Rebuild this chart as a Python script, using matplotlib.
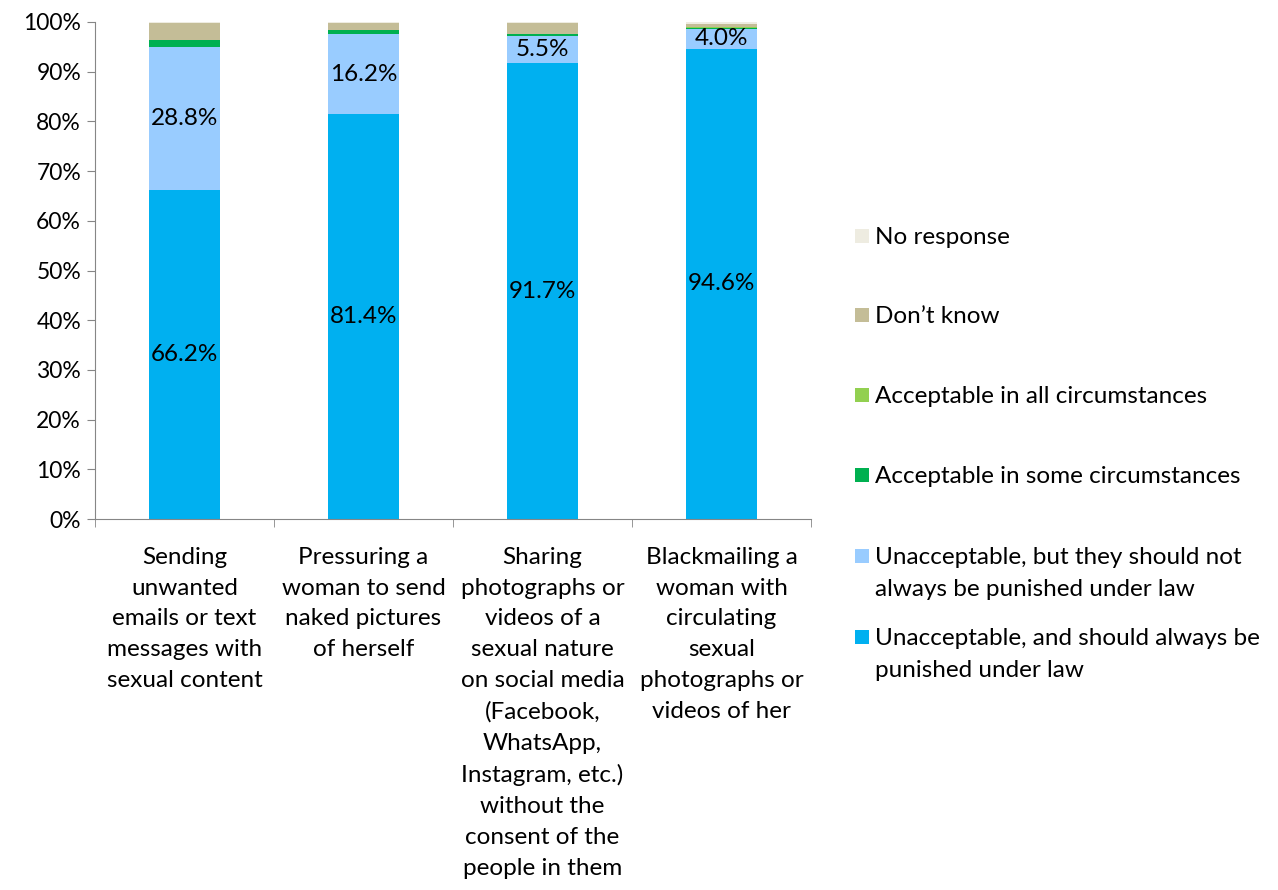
import numpy as np
import matplotlib.pyplot as plt
from matplotlib.patches import Rectangle
from matplotlib.ticker import FixedLocator, PercentFormatter

plt.rcParams['font.family'] = ['Lato', 'DejaVu Sans']

categories = [
    "Sending\nunwanted\nemails or text\nmessages with\nsexual content",
    "Pressuring a\nwoman to send\nnaked pictures\nof herself",
    "Sharing\nphotographs or\nvideos of a\nsexual nature\non social media\n(Facebook,\nWhatsApp,\nInstagram, etc.)\nwithout the\nconsent of the\npeople in them",
    "Blackmailing a\nwoman with\ncirculating\nsexual\nphotographs or\nvideos of her",
]

# share of respondents (%), stacked bottom to top
always_punished = [66.2, 81.4, 91.7, 94.6]
not_always_punished = [28.8, 16.2, 5.5, 4.0]
acceptable_some = [1.3, 0.7, 0.3, 0.1]
acceptable_all = [0.1, 0.1, 0.1, 0.2]
dont_know = [3.4, 1.4, 2.2, 0.7]
no_response = [0.2, 0.2, 0.2, 0.4]

series = [
    ("Unacceptable, and should always be\npunished under law", always_punished, "#00B0F0"),
    ("Unacceptable, but they should not\nalways be punished under law", not_always_punished, "#99CCFF"),
    ("Acceptable in some circumstances", acceptable_some, "#00B050"),
    ("Acceptable in all circumstances", acceptable_all, "#92D050"),
    ("Don\u2019t know", dont_know, "#C4BD97"),
    ("No response", no_response, "#EEECE1"),
]

FS = 17.5

fig = plt.figure(figsize=(12.78, 8.9), dpi=100)
ax = fig.add_axes([95 / 1278, 1 - 519 / 890, 716 / 1278, 497 / 890])

x = np.arange(len(categories))
bottom = np.zeros(len(categories))
for i, (name, vals, col) in enumerate(series):
    vals = np.array(vals)
    bars = ax.bar(x, vals, 0.4, bottom=bottom, color=col, linewidth=0)
    if i < 2:
        for b, v, b0 in zip(bars, vals, bottom):
            ax.text(b.get_x() + b.get_width() / 2, b0 + v / 2, f"{v:.1f}%",
                    ha="center", va="center", fontsize=FS, color="black")
    bottom += vals

ax.set_xlim(-0.5, len(categories) - 0.5)
ax.set_ylim(0, 100)
ax.yaxis.set_major_locator(FixedLocator(np.arange(0, 101, 10)))
ax.yaxis.set_major_formatter(PercentFormatter(decimals=0))
ax.set_xticks(x)
ax.set_xticklabels(categories, fontsize=FS, linespacing=1.58, va="top")
ax.xaxis.set_minor_locator(FixedLocator(np.arange(-0.5, len(categories), 1)))
ax.tick_params(axis="x", which="major", length=0, pad=20)
ax.tick_params(axis="x", which="minor", length=6, color="#868686")
ax.tick_params(axis="y", length=6, color="#868686", labelsize=16.5, pad=4)
for s in ["top", "right"]:
    ax.spines[s].set_visible(False)
for s in ["left", "bottom"]:
    ax.spines[s].set_color("#868686")

# legend, top entry first; handle sits beside the first text line
ys = [236, 315, 395, 475, 556, 637]
for (name, vals, col), yy in zip(series[::-1], ys):
    fig.patches.append(Rectangle((855 / 1278, 1 - (yy + 7) / 890), 14 / 1278, 14 / 890,
                                 transform=fig.transFigure, color=col, linewidth=0))
    fig.text(875 / 1278, 1 - (yy - 9) / 890, name, fontsize=FS, va="top",
             ha="left", linespacing=1.62)

fig.savefig("out.png", dpi=100)
